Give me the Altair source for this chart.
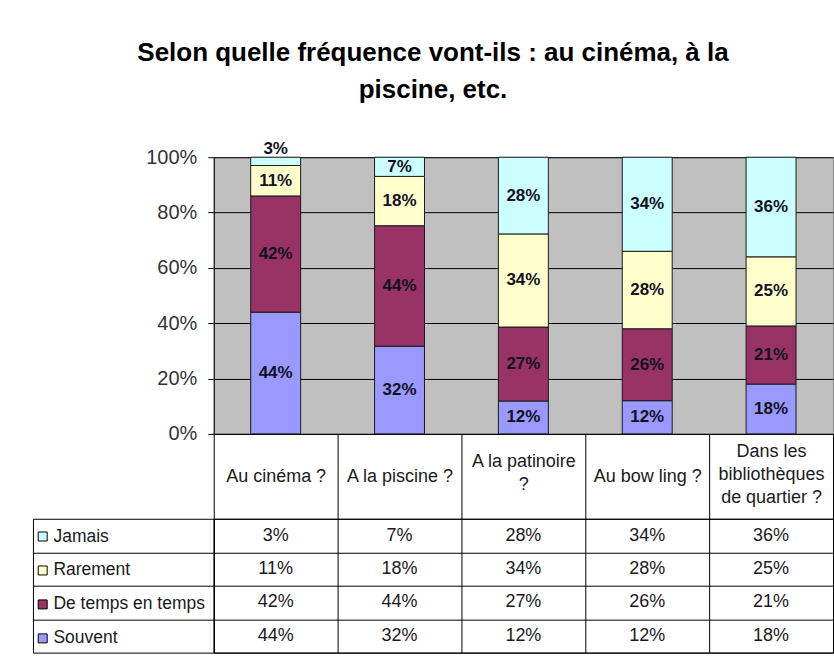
import altair as alt
import pandas as pd

categories = ["Au cinéma ?", "A la piscine ?", "A la patinoire\n?", "Au bow ling ?",
              "Dans les\nbibliothèques\nde quartier ?"]
series = ["Jamais", "Rarement", "De temps en temps", "Souvent"]
jamais = [3, 7, 28, 34, 36]
rarement = [11, 18, 34, 28, 25]
de_temps_en_temps = [42, 44, 27, 26, 21]
souvent = [44, 32, 12, 12, 18]
colors = ["#CCFFFF", "#FFFFCC", "#993366", "#9999FF"]
y_ticks = [0, 0.2, 0.4, 0.6, 0.8, 1.0]
title_lines = ["Selon quelle fréquence vont-ils : au cinéma, à la", "piscine, etc."]

FONT = "Liberation Sans"
values = {"Jamais": jamais, "Rarement": rarement,
          "De temps en temps": de_temps_en_temps, "Souvent": souvent}

rows = []
for i, cat in enumerate(categories):
    total = sum(values[s][i] for s in series)
    bottom = 0
    for k, s in enumerate(reversed(series)):
        v = values[s][i]
        rows.append(dict(cat=cat, serie=s, v=v, stack_order=k, label=f"{v}%",
                         mid=(bottom + v / 2) / total, top=(bottom + v) / total))
        bottom += v
df = pd.DataFrame(rows)

y_scale = alt.Scale(domain=[0, 1], nice=False)
x_scale = alt.Scale(paddingInner=0, paddingOuter=0)

n_lines = "length(split(datum.value, '\\n'))"
x_axis = alt.Axis(title=None, tickBand="extent", tickSize=85, tickColor="black",
                  domainColor="black", labelAngle=0, labelBaseline="middle",
                  labelPadding={"condition": [
                      {"test": n_lines + " == 3", "value": -67},
                      {"test": n_lines + " == 2", "value": -57}],
                      "value": -42.5},
                  labelFontSize=18, labelFont=FONT,
                  labelColor="#1a1a1a", labelLineHeight=23, labelLimit=0,
                  labelOverlap=False,
                  labelExpr="split(datum.label, '\\n')")
y_axis = alt.Axis(title=None, values=y_ticks, format=".0%", grid=True,
                  gridColor="black", tickSize=6, tickColor="black",
                  domainColor="black", labelFontSize=20, labelFont=FONT,
                  labelColor="#333333", labelPadding=11)

x_enc = alt.X("cat:N", sort=categories, scale=x_scale, axis=x_axis)

bars = alt.Chart(df).mark_bar(size=50, stroke="#1a1a1a", strokeWidth=1).encode(
    x=x_enc,
    y=alt.Y("v:Q", stack="normalize", scale=y_scale, axis=y_axis),
    color=alt.Color("serie:N", scale=alt.Scale(domain=series, range=colors),
                    legend=alt.Legend(title=None, orient="none", legendX=-180,
                                      legendY=371, symbolType="square",
                                      symbolSize=81, symbolStrokeColor="black",
                                      symbolStrokeWidth=1, labelFontSize=17.5,
                                      labelFont=FONT, labelColor="#1a1a1a",
                                      rowPadding=15, labelOffset=2, padding=0)),
    order=alt.Order("stack_order:Q", sort="ascending"),
)
labels = alt.Chart(df).transform_filter("datum.v >= 5").mark_text(
    fontSize=17, fontWeight="bold", font=FONT, color="#111122", baseline="middle"
).encode(x=x_enc, y=alt.Y("mid:Q", scale=y_scale, axis=y_axis), text="label:N")
small = alt.Chart(df).transform_filter("datum.v < 5").mark_text(
    fontSize=17, fontWeight="bold", font=FONT, color="#111122", baseline="bottom", dy=1
).encode(x=x_enc, y=alt.Y("top:Q", scale=y_scale, axis=y_axis), text="label:N")

top = alt.layer(bars, labels, small).properties(
    width=620, height=277, view=alt.ViewBackground(fill="#C0C0C0", stroke="#8a8a8a"))

t_x = alt.X("cat:N", sort=categories, scale=x_scale,
            axis=alt.Axis(title=None, labels=False, ticks=False, domain=False, grid=True,
                          gridColor="black", tickBand="extent"))
t_y = alt.Y("serie:N", sort=series, scale=x_scale,
            axis=alt.Axis(title=None, labels=False, tickBand="extent", tickSize=181,
                          tickColor="black", grid=True, gridColor="black",
                          domainColor="black", orient="left"))
t_y2 = alt.Y("serie:N", sort=series, scale=x_scale,
             axis=alt.Axis(title=None, labels=False, ticks=False, grid=False, offset=181,
                           domainColor="black", orient="left"))
table_text = alt.Chart(df).mark_text(fontSize=18, font=FONT, color="#1a1a1a").encode(
    x=t_x, y=t_y, text="label:N")
table_edge = alt.Chart(df).mark_text(fontSize=18, font=FONT, opacity=0).encode(
    x=t_x, y=t_y2, text="label:N")
table = alt.layer(table_text, table_edge).resolve_axis(y="independent").properties(
    width=620, height=134, view=alt.ViewBackground(fill="white", stroke="black"))

chart = alt.vconcat(top, table, spacing=85, bounds="flush").properties(
    title=alt.Title(title_lines, fontSize=26, font=FONT, fontWeight="bold",
                    lineHeight=37, anchor="middle", color="black", offset=37),
    padding={"left": 32, "right": 0, "top": 39, "bottom": 15},
    background="white",
)
chart.save("out.html", embed_options={"renderer": "svg", "actions": False})
